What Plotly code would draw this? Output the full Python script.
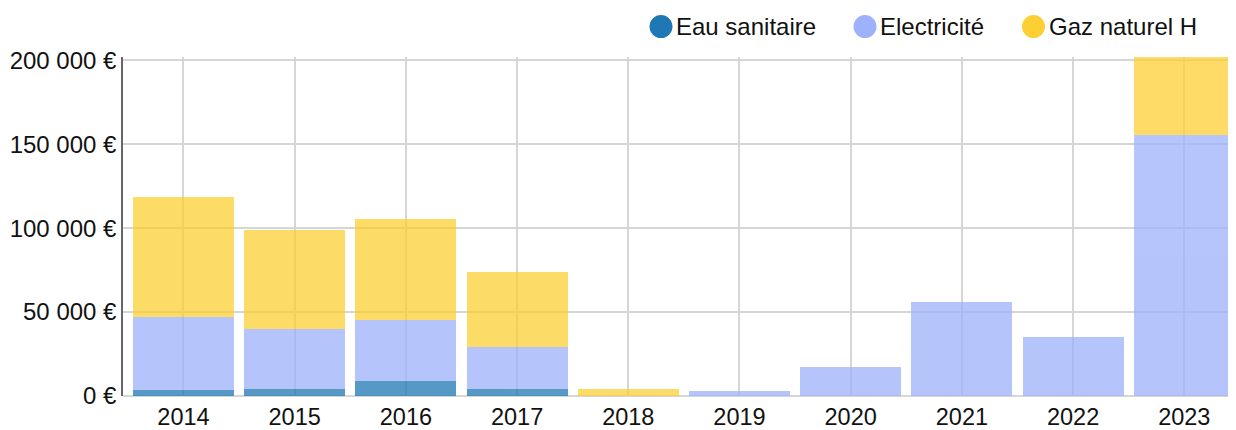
import plotly.graph_objects as go

years = ["2014", "2015", "2016", "2017", "2018", "2019", "2020", "2021", "2022", "2023"]
eau = [3500, 3900, 9200, 4300, 0, 0, 0, 0, 0, 0]
elec = [43800, 36200, 36300, 25100, 0, 2700, 17500, 56200, 35400, 155400]
gaz = [71300, 58900, 60000, 44600, 3900, 0, 0, 0, 0, 46600]

names = ["Eau sanitaire", "Electricité", "Gaz naturel H"]
colors = ["#1f77b4", "#9db2fb", "#fccf33"]
series = [eau, elec, gaz]

ytick_vals = [0, 50000, 100000, 150000, 200000]
ytick_text = ["0 €", "50 000 €", "100 000 €", "150 000 €", "200 000 €"]

# page body has an 8px margin, so the figure is sized to fit the window
OFF = 8
W, H = 1236 - OFF, 430 - OFF
L, R, T, B = 115, 0, 49, 33.5
pw, ph = W - L - R, H - T - B

def px_x(vx):
    return (vx - OFF - L) / pw

def px_y(vy):
    return (H - B - (vy - OFF)) / ph

fig = go.Figure()
for name, col, vals in zip(names, colors, series):
    fig.add_trace(go.Bar(x=years, y=vals, name=name, marker=dict(color=col, line=dict(width=0)),
                         opacity=0.75, showlegend=False))

# custom legend with large circles (viewport pixel positions)
legend_centers = [661, 865, 1033.5]
for name, col, cx in zip(names, colors, legend_centers):
    fig.add_shape(type="circle", xref="paper", yref="paper",
                  xsizemode="pixel", ysizemode="pixel",
                  xanchor=px_x(cx), yanchor=px_y(26.5),
                  x0=-11.5, x1=11.5, y0=-11.5, y1=11.5,
                  fillcolor=col, line=dict(width=0))
    fig.add_annotation(xref="paper", yref="paper", x=px_x(cx + 15), y=px_y(26.5),
                       text=name, showarrow=False, xanchor="left", yanchor="middle",
                       xshift=-2, font=dict(size=24, color="#111"))

totals = [a + b + c for a, b, c in zip(eau, elec, gaz)]

fig.update_layout(
    barmode="stack",
    bargap=0.09,
    width=W, height=H,
    margin=dict(l=L, r=R, t=T, b=B, autoexpand=False),
    plot_bgcolor="white", paper_bgcolor="white",
    showlegend=False,
    font=dict(family="Liberation Sans, Arial, sans-serif", size=24, color="#111"),
    xaxis=dict(range=[-0.544, 9.465], showgrid=True, gridcolor="#d6d6d6", gridwidth=1.5,
               showline=False, ticks="", automargin=False, ticklabelstandoff=4,
               tickfont=dict(size=23.5)),
    yaxis=dict(range=[0, max(totals)], showgrid=True, gridcolor="#d6d6d6", gridwidth=1.5,
               zeroline=True, zerolinecolor="#d6d6d6", zerolinewidth=1.5,
               showline=True, linecolor="#666", linewidth=1.5, automargin=False,
               tickvals=ytick_vals, ticktext=ytick_text,
               ticks="", ticklabelstandoff=0, tickfont=dict(size=24)),
)

fig.write_html("out.html")
